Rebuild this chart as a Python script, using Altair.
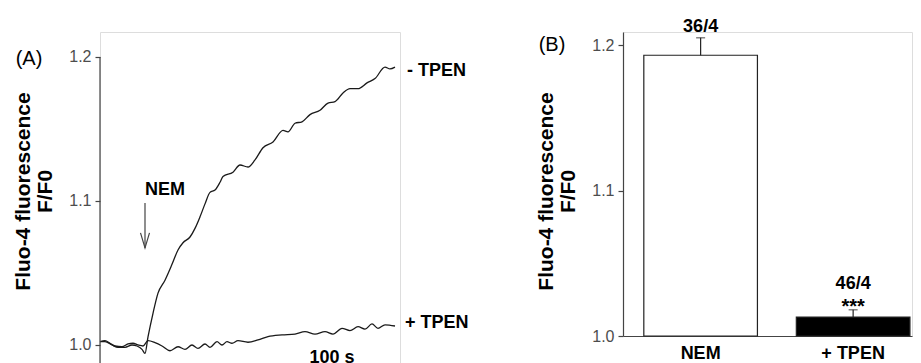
import altair as alt
import pandas as pd

FONT = "Liberation Sans"

# ---- Panel A: Fluo-4 traces (time in s, F/F0) ----
t_minus = [0, 5, 12, 18, 25, 32, 37, 42, 45, 48, 53, 58, 65, 72, 78, 83, 90, 95, 100, 105,
           110, 115, 120, 123, 133, 140, 148, 155, 163, 173, 183, 188, 195, 202, 210, 220,
           228, 235, 243, 250, 258, 267, 275, 285, 290, 295]
v_minus = [1.0023, 1.0023, 1.000, 0.9984, 0.9984, 1.000, 0.9993, 0.997, 0.9942, 1.0056, 1.022,
           1.036, 1.045, 1.056, 1.066, 1.071, 1.075, 1.081, 1.089, 1.098, 1.106, 1.1076, 1.113,
           1.117, 1.120, 1.125, 1.1236, 1.1285, 1.137, 1.141, 1.149, 1.148, 1.154, 1.155, 1.160,
           1.163, 1.168, 1.169, 1.175, 1.178, 1.178, 1.182, 1.185, 1.193, 1.1917, 1.193]

t_plus = [0, 5, 10, 15, 22, 28, 33, 38, 43, 48, 55, 62, 70, 78, 85, 92, 98, 105, 110, 117,
          122, 127, 132, 138, 148, 158, 168, 182, 195, 205, 215, 225, 233, 242, 250, 258, 265,
          272, 278, 285, 295]
v_plus = [1.0023, 1.003, 1.0012, 0.9993, 0.9988, 1.0007, 1.0012, 1.000, 0.9993, 1.003, 1.0016,
          0.9993, 0.996, 0.9988, 0.997, 1.000, 0.9977, 1.0007, 0.9984, 1.0023, 1.000, 1.0023,
          1.0012, 1.003, 1.0019, 1.0035, 1.0058, 1.007, 1.0076, 1.0093, 1.0076, 1.0093, 1.0076,
          1.0116, 1.010, 1.0127, 1.011, 1.0146, 1.0116, 1.014, 1.0132]

series_names = ["- TPEN", "+ TPEN"]
nem_time = 45

# ---- Panel B: mean F/F0 ----
conditions = ["NEM", "+ TPEN"]
means = [1.193, 1.013]
errors = [0.012, 0.005]
n_labels = ["36/4", "46/4"]
sig_labels = ["", "***"]

# ---------------- build tables ----------------
traces = pd.DataFrame(
    [{"t": t, "v": v, "series": series_names[0]} for t, v in zip(t_minus, v_minus)]
    + [{"t": t, "v": v, "series": series_names[1]} for t, v in zip(t_plus, v_plus)]
)
bars = pd.DataFrame({"cond": conditions, "mean": means, "err": errors,
                     "n": n_labels, "sig": sig_labels})
bars["top"] = bars["mean"] + bars["err"]
bars["n_y"] = bars["top"] + 0.0043 + bars["sig"].map(lambda s: 0.010 if s else 0.0)
bars["sig_y"] = bars["top"] - 0.002

LINE = "#1a1a1a"
AXC = "#444444"
LABC = "#4d4d4d"

yA_dom = [0.98611, 1.21736]
xA = alt.X("t:Q", scale=alt.Scale(domain=[0, 300], nice=False, zero=False), axis=None)
yA_scale = alt.Scale(domain=yA_dom, nice=False, zero=False)

title_lines = ["Fluo-4 fluorescence", "F/F0"]

def y_axis(domain_line):
    return alt.Axis(values=[1.0, 1.1, 1.2], format=".1f", grid=False, domain=domain_line,
                    domainColor=AXC, domainWidth=1.2, ticks=True, tickSize=5, tickColor=AXC,
                    tickWidth=1.2, labelFont=FONT, labelFontSize=16, labelColor=LABC,
                    labelPadding=4, title=title_lines, titleFont=FONT, titleFontSize=21,
                    titleFontWeight="bold", titleColor="black", titleAngle=270,
                    titleX=-77, titleY=159, titleBaseline="middle", titleAlign="center",
                    titleLineHeight=22)

baseA = alt.Chart(traces)
lines = baseA.mark_line(color=LINE, strokeWidth=1.3, interpolate="monotone").encode(
    x=xA, y=alt.Y("v:Q", scale=yA_scale, axis=y_axis(False)), detail="series:N")

axis_line = alt.Chart(pd.DataFrame({"t": [0], "lo": [yA_dom[0]], "hi": [1.2]})).mark_rule(
    color=AXC, strokeWidth=1.2).encode(x=xA, y=alt.Y("lo:Q", scale=yA_scale), y2="hi:Q")

end_labels = pd.DataFrame({"t": [307, 305], "v": [1.1868, 1.0118], "txt": series_names})
end_text = alt.Chart(end_labels).mark_text(
    align="left", baseline="alphabetic", font=FONT, fontSize=18, fontWeight="bold",
    color="black").encode(x=xA, y=alt.Y("v:Q", scale=yA_scale), text="txt:N")

nem_df = pd.DataFrame({"t": [nem_time], "top": [1.0986], "tip": [1.0674],
                       "lab_t": [nem_time + 20], "lab_v": [1.1042], "txt": ["NEM"]})
arrow_line = alt.Chart(nem_df).mark_rule(color=AXC, strokeWidth=1.2).encode(
    x=xA, y=alt.Y("top:Q", scale=yA_scale), y2="tip:Q")
arrow_head = alt.Chart(nem_df).mark_point(
    shape="M-0.3,-1L0,0L0.3,-1", size=900, filled=False, color=AXC, strokeWidth=1.2,
    opacity=1).encode(x=xA, y=alt.Y("tip:Q", scale=yA_scale))
nem_text = alt.Chart(nem_df).mark_text(
    align="center", baseline="alphabetic", font=FONT, fontSize=18, fontWeight="bold",
    color="black").encode(x=alt.X("lab_t:Q", scale=alt.Scale(domain=[0, 300], nice=False), axis=None),
                          y=alt.Y("lab_v:Q", scale=yA_scale), text="txt:N")

scale_text = alt.Chart(pd.DataFrame({"t": [232], "v": [0.9875], "txt": ["100 s"]})).mark_text(
    align="center", baseline="alphabetic", font=FONT, fontSize=18, fontWeight="bold",
    color="black").encode(x=xA, y=alt.Y("v:Q", scale=yA_scale), text="txt:N")

tagA = alt.Chart(pd.DataFrame({"txt": ["(A)"]})).mark_text(
    align="center", baseline="middle", font=FONT, fontSize=20, color="black").encode(
    x=alt.value(-71), y=alt.value(27), text="txt:N")

panelA = alt.layer(lines, axis_line, end_text, arrow_line, arrow_head, nem_text,
                   scale_text, tagA).properties(width=300, height=333)

# ---------------- Panel B ----------------
yB_scale = alt.Scale(domain=[1.0, 1.209], nice=False, zero=False)
xB = alt.X("cond:N", sort=conditions,
           scale=alt.Scale(paddingInner=0.255, paddingOuter=0.075, align=0.91),
           axis=alt.Axis(title=None, labelAngle=0, ticks=False, domainColor=AXC,
                         domainWidth=1.2, labelFont=FONT, labelFontSize=18,
                         labelFontWeight="bold", labelColor="black", labelPadding=8))
baseB = alt.Chart(bars)
bar = baseB.mark_bar(stroke="#222222", strokeWidth=1.2).encode(
    x=xB, y=alt.Y("mean:Q", scale=yB_scale, axis=y_axis(True)), y2=alt.datum(1.0),
    fill=alt.Fill("cond:N", scale=alt.Scale(domain=conditions, range=["white", "black"]),
                  legend=None))
err = baseB.mark_rule(color="#222222", strokeWidth=1.2).encode(
    x=xB, y=alt.Y("mean:Q", scale=yB_scale), y2="top:Q")
cap = baseB.mark_tick(color="#222222", thickness=1.2, size=9).encode(
    x=xB, y=alt.Y("top:Q", scale=yB_scale))
ntext = baseB.mark_text(baseline="alphabetic", font=FONT, fontSize=18, fontWeight="bold",
                        color="black").encode(x=xB, y=alt.Y("n_y:Q", scale=yB_scale), text="n:N")
stext = baseB.mark_text(baseline="alphabetic", font=FONT, fontSize=20, fontWeight="bold",
                        color="black").encode(x=xB, y=alt.Y("sig_y:Q", scale=yB_scale), text="sig:N")
tagB = alt.Chart(pd.DataFrame({"txt": ["(B)"]})).mark_text(
    align="center", baseline="middle", font=FONT, fontSize=20, color="black").encode(
    x=alt.value(-71), y=alt.value(13), text="txt:N")

panelB = alt.layer(bar, err, cap, ntext, stext, tagB).properties(width=289, height=304)

chart = alt.hconcat(panelA, panelB, spacing=223, bounds="flush").properties(
    padding={"left": 3, "top": 9, "right": 0, "bottom": 0}
).configure_view(strokeWidth=0, stroke="transparent").configure(font=FONT)

chart.save("out.html", embed_options={"renderer": "svg", "actions": False})
